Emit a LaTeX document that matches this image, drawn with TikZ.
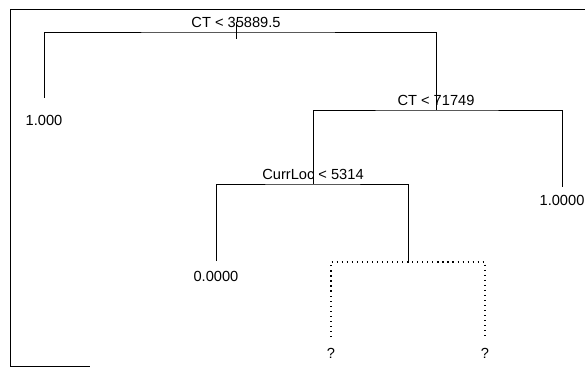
\documentclass[tikz,border=0pt]{standalone}
\usepackage{fontspec}
\setmainfont{Liberation Sans}
\usetikzlibrary{positioning}

\begin{document}
\begin{tikzpicture}[
            x=0.03cm, y=-0.03cm,
            split/.style={anchor=south, inner sep=0pt, outer sep=0pt, yshift=1.4mm, font=\fontsize{12.5}{14}\selectfont},
            leaf/.style={anchor=north, inner sep=0pt, font=\fontsize{12.5}{14}\selectfont},
            branch/.style={line width=0.8pt},
            open/.style={line width=1pt, dash pattern=on 1pt off 3.3pt},
            frame/.style={line width=0.6pt}
        ]
            \useasboundingbox (0,0) rectangle (585,367);
            \draw[frame] (585,9) -- (10,9) -- (10,366) -- (90,366);

            \coordinate (s1) at (236,32);
            \coordinate (s2) at (436,110);
            \coordinate (s3) at (313,184);
            \coordinate (s4) at (408,262);

            \node[split] (ct1) at (s1) {CT < 35889.5};
            \node[split] (ct2) at (s2) {CT < 71749};
            \node[split] (loc) at (s3) {CurrLoc < 5314};

            \node[leaf, outer sep=0.51cm] (one1) at (44,98) {1.000};
            \node[leaf, outer sep=0.24cm] (one2) at (562,187) {1.0000};
            \node[leaf, outer sep=0.3cm] (zero) at (216,261) {0.0000};
            \node[leaf, outer sep=0.33cm] (q1) at (331,337) {?};
            \node[leaf, outer sep=0.33cm] (q2) at (485,337) {?};

            \draw[branch] ([yshift=-0.21cm]s1) -- ([yshift=0.3cm]s1);
            \draw[branch] (one1.north) |- (s1) -| (s2);
            \draw[branch] (s3) |- (s2) -| (one2.north);
            \draw[branch] (zero.north) |- (s3) -| (s4);
            \draw[open] (q1.north) |- (s4) -| (q2.north);
        \end{tikzpicture}
\end{document}
